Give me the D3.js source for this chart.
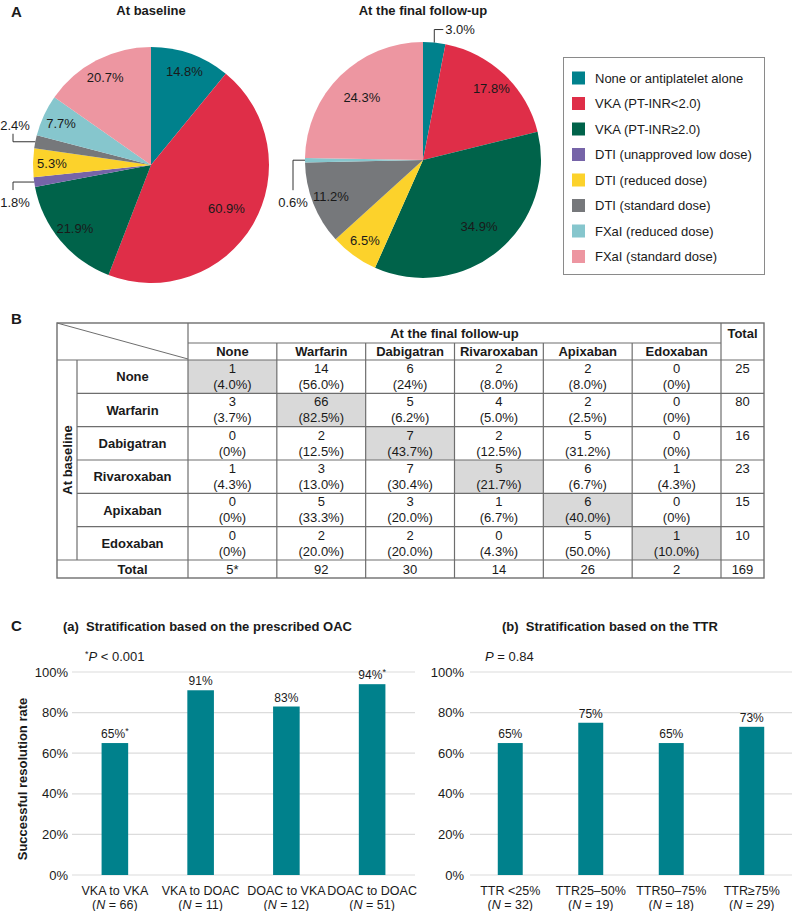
<!DOCTYPE html>
<html><head><meta charset="utf-8">
<script src="https://cdn.jsdelivr.net/npm/d3@7"></script>
<style>
body{margin:0;background:#fff;}
svg{display:block;font-family:"Liberation Sans",Arial,Helvetica,sans-serif;}
</style></head>
<body><svg id="c" width="792" height="911"></svg>
<script>
// ---------- DATA ----------
const pieCategories = ["None or antiplatelet alone","VKA (PT-INR<2.0)","VKA (PT-INR\u22652.0)","DTI (unapproved low dose)","DTI (reduced dose)","DTI (standard dose)","FXaI (reduced dose)","FXaI (standard dose)"];
const pieColors = ["#00818C","#DF2E48","#00634A","#7664A8","#FCD22B","#76787B","#86C6CD","#ED96A1"];
const baselineValues = [14.8, 60.9, 21.9, 1.8, 5.3, 2.4, 7.7, 20.7];
const finalValues = [3.0, 17.8, 34.9, 0, 6.5, 11.2, 0.6, 24.3];

const tableCols = ["None","Warfarin","Dabigatran","Rivaroxaban","Apixaban","Edoxaban"];
const tableRows = ["None","Warfarin","Dabigatran","Rivaroxaban","Apixaban","Edoxaban"];
const tableCounts = [
  [1,14,6,2,2,0],
  [3,66,5,4,2,0],
  [0,2,7,2,5,0],
  [1,3,7,5,6,1],
  [0,5,3,1,6,0],
  [0,2,2,0,5,1]];
const tablePcts = [
  ["4.0%","56.0%","24%","8.0%","8.0%","0%"],
  ["3.7%","82.5%","6.2%","5.0%","2.5%","0%"],
  ["0%","12.5%","43.7%","12.5%","31.2%","0%"],
  ["4.3%","13.0%","30.4%","21.7%","6.7%","4.3%"],
  ["0%","33.3%","20.0%","6.7%","40.0%","0%"],
  ["0%","20.0%","20.0%","4.3%","50.0%","10.0%"]];
const rowTotals = [25,80,16,23,15,10];
const colTotals = ["5*","92","30","14","26","2"];
const grandTotal = 169;

const oacGroups = ["VKA to VKA","VKA to DOAC","DOAC to VKA","DOAC to DOAC"];
const oacN = [66,11,12,51];
const oacRates = [65,91,83,94];
const oacSig = [true,false,false,true];
const ttrGroups = ["TTR <25%","TTR25\u201350%","TTR50\u201375%","TTR\u226575%"];
const ttrN = [32,19,18,29];
const ttrRates = [65,75,65,73];
const ttrSig = [false,false,false,false];
const yTicks = [0,20,40,60,80,100];

// ---------- DRAW ----------
const svg = d3.select("#c");
const TXT = "#1a1a1a";

// Panel A
svg.append("text").attr("x",11).attr("y",17).attr("font-size",15).attr("font-weight","bold").attr("fill",TXT).text("A");

function drawPie(cx, cy, r, values, title, outside){
  const g = svg.append("g").attr("transform",`translate(${cx},${cy})`);
  svg.append("text").attr("x",cx).attr("y",15).attr("text-anchor","middle")
    .attr("font-size",13).attr("font-weight","bold").attr("fill",TXT).text(title);
  const pie = d3.pie().sort(null).value(d=>d.v);
  const arcs = pie(values.map((v,i)=>({v,i})));
  const arc = d3.arc().innerRadius(0).outerRadius(r);
  g.selectAll("path").data(arcs).enter().append("path")
    .attr("d",arc).attr("fill",d=>pieColors[d.data.i]).attr("stroke","none");
  const fmt = v=>v.toFixed(1)+"%";
  const outIdx = outside.map(o=>o.i);
  arcs.forEach(d=>{
    if(d.data.v===0 || outIdx.includes(d.data.i)) return;
    const big = (d.endAngle-d.startAngle) > 1.5;
    const lr = r*(big?0.74:0.84);
    const la = d3.arc().innerRadius(lr).outerRadius(lr);
    const [x,y] = la.centroid(d);
    g.append("text").attr("x",x).attr("y",y+4.5).attr("text-anchor","middle")
      .attr("font-size",13).attr("fill",TXT).text(fmt(d.data.v));
  });
  outside.forEach(o=>{
    const d = arcs[o.i];
    const ea = d3.arc().innerRadius(r).outerRadius(r);
    const [x,y] = ea.centroid(d);
    let pts, tx, ty, anchor;
    if(o.route==="left-up"){ pts=[[x,y],[o.x,y],[o.x,y-8]]; tx=o.x+2; ty=y-12; anchor="middle"; }
    else if(o.route==="left-down"){ pts=[[x,y],[o.x,y],[o.x,y+8]]; tx=o.x+2; ty=y+25; anchor="middle"; }
    else if(o.route==="up-right"){ pts=[[x,y],[x,y-13],[x+9,y-13]]; tx=x+11; ty=y-8.5; anchor="start"; }
    else if(o.route==="left-longdown"){ pts=[[x,y],[o.x,y],[o.x,y+30]]; tx=o.x; ty=y+47; anchor="middle"; }
    g.append("path").attr("d",d3.line()(pts)).attr("fill","none").attr("stroke","#333").attr("stroke-width",1);
    g.append("text").attr("x",tx).attr("y",ty).attr("text-anchor",anchor)
      .attr("font-size",13).attr("fill",TXT).text(fmt(d.data.v));
  });
}
drawPie(151,165,118,baselineValues,"At baseline",
  [{i:5,route:"left-up",x:-138},{i:3,route:"left-down",x:-138}]);
drawPie(423,160,118,finalValues,"At the final follow-up",
  [{i:0,route:"up-right"},{i:6,route:"left-longdown",x:-130}]);

// Legend
const lg = svg.append("g");
lg.append("rect").attr("x",563.5).attr("y",57.5).attr("width",201).attr("height",217)
  .attr("fill","#fff").attr("stroke","#8a8a8a").attr("stroke-width",1);
pieCategories.forEach((c,i)=>{
  const yy = 78 + i*25.5;
  lg.append("rect").attr("x",572).attr("y",yy-6.5).attr("width",13).attr("height",13).attr("fill",pieColors[i]);
  lg.append("text").attr("x",595).attr("y",yy+4.5).attr("font-size",13).attr("fill",TXT).text(c);
});

// Panel B: table
svg.append("text").attr("x",11).attr("y",324).attr("font-size",15).attr("font-weight","bold").attr("fill",TXT).text("B");
const tb = svg.append("g");
const xL = 57, xSide = 77, xLab = 188, xTot = 721, xR = 764;
const yT = 323, yH1 = 343, yH2 = 360, yDataEnd = 560, yB = 578;
const cx = d3.scaleBand().domain(tableCols).range([xLab,xTot]);
const ry = d3.scaleBand().domain(tableRows).range([yH2,yDataEnd]);
const LC = "#6e6e6e";
// shaded diagonal
tableRows.forEach((r,i)=>{
  tb.append("rect").attr("x",cx(tableCols[i])).attr("y",ry(r)).attr("width",cx.bandwidth()).attr("height",ry.bandwidth()).attr("fill","#d9d9d9");
});
function hl(x1,x2,y){ tb.append("line").attr("x1",x1).attr("x2",x2).attr("y1",y).attr("y2",y).attr("stroke",LC).attr("stroke-width",1.2); }
function vl(x,y1,y2){ tb.append("line").attr("x1",x).attr("x2",x).attr("y1",y1).attr("y2",y2).attr("stroke",LC).attr("stroke-width",1.2); }
// outer box
tb.append("rect").attr("x",xL).attr("y",yT).attr("width",xR-xL).attr("height",yB-yT).attr("fill","none").attr("stroke",LC).attr("stroke-width",1.4);
hl(xLab,xTot,yH1);
hl(xL,xR,yH2);
tableRows.forEach((r,i)=>{ if(i>0) hl(xSide,xR,ry(r)); });
hl(xL,xR,yDataEnd);
vl(xSide,yH2,yDataEnd);
vl(xLab,yT,yB);
tableCols.forEach((c,i)=>{ if(i>0) vl(cx(c),yH1,yB); });
vl(xTot,yT,yB);
tb.append("line").attr("x1",xL).attr("y1",yT).attr("x2",xLab).attr("y2",yH2-1).attr("stroke",LC).attr("stroke-width",1);
tb.append("text").attr("x",(xLab+xTot)/2).attr("y",338).attr("text-anchor","middle").attr("font-size",13).attr("font-weight","bold").attr("fill",TXT).text("At the final follow-up");
tb.append("text").attr("x",(xTot+xR)/2).attr("y",338).attr("text-anchor","middle").attr("font-size",13).attr("font-weight","bold").attr("fill",TXT).text("Total");
tableCols.forEach(c=>{
  tb.append("text").attr("x",cx(c)+cx.bandwidth()/2).attr("y",356).attr("text-anchor","middle").attr("font-size",13).attr("font-weight","bold").attr("fill",TXT).text(c);
});
tb.append("text").attr("transform",`translate(${(xL+xSide)/2+4.5},${(yH2+yDataEnd)/2}) rotate(-90)`).attr("text-anchor","middle").attr("font-size",13).attr("font-weight","bold").attr("fill",TXT).text("At baseline");
tableRows.forEach((r,i)=>{
  const y0 = ry(r);
  tb.append("text").attr("x",(xSide+xLab)/2).attr("y",y0+ry.bandwidth()/2+4.5).attr("text-anchor","middle").attr("font-size",13).attr("font-weight","bold").attr("fill",TXT).text(r);
  tableCols.forEach((c,j)=>{
    const xm = cx(c)+cx.bandwidth()/2;
    tb.append("text").attr("x",xm).attr("y",y0+13).attr("text-anchor","middle").attr("font-size",13).attr("fill",TXT).text(tableCounts[i][j]);
    tb.append("text").attr("x",xm).attr("y",y0+29).attr("text-anchor","middle").attr("font-size",13).attr("fill",TXT).text("("+tablePcts[i][j]+")");
  });
  tb.append("text").attr("x",(xTot+xR)/2).attr("y",y0+13).attr("text-anchor","middle").attr("font-size",13).attr("fill",TXT).text(rowTotals[i]);
});
tb.append("text").attr("x",(xSide+xLab)/2).attr("y",yB-4.5).attr("text-anchor","middle").attr("font-size",13).attr("font-weight","bold").attr("fill",TXT).text("Total");
tableCols.forEach((c,j)=>{
  tb.append("text").attr("x",cx(c)+cx.bandwidth()/2).attr("y",yB-4.5).attr("text-anchor","middle").attr("font-size",13).attr("fill",TXT).text(colTotals[j]);
});
tb.append("text").attr("x",(xTot+xR)/2).attr("y",yB-4.5).attr("text-anchor","middle").attr("font-size",13).attr("fill",TXT).text(grandTotal);

// Panel C
svg.append("text").attr("x",11).attr("y",631).attr("font-size",15).attr("font-weight","bold").attr("fill",TXT).text("C");
const y = d3.scaleLinear().domain([0,100]).range([875,672]);

function drawBars(x0,x1,labelX,groups,ns,rates,sig,title,titleX,pNote){
  const g = svg.append("g");
  const x = d3.scaleBand().domain(groups).range([x0,x1]).paddingInner(0.69).paddingOuter(0.345);
  g.selectAll("line.grid").data(yTicks).enter().append("line")
    .attr("x1",x0).attr("x2",x1).attr("y1",d=>y(d)).attr("y2",d=>y(d))
    .attr("stroke","#dcdcdc").attr("stroke-width",1.2);
  g.selectAll("text.tick").data(yTicks).enter().append("text")
    .attr("x",labelX).attr("y",d=>y(d)+4.5).attr("text-anchor","end").attr("font-size",13).attr("fill",TXT)
    .text(d=>d+"%");
  g.selectAll("rect.bar").data(groups).enter().append("rect")
    .attr("x",d=>x(d)).attr("width",x.bandwidth())
    .attr("y",(d,i)=>y(rates[i])).attr("height",(d,i)=>y(0)-y(rates[i]))
    .attr("fill","#00818C");
  groups.forEach((gname,i)=>{
    const xm = x(gname)+x.bandwidth()/2;
    const t = g.append("text").attr("x",xm).attr("y",y(rates[i])-5).attr("text-anchor","middle").attr("font-size",12).attr("fill",TXT);
    t.append("tspan").text(rates[i]+"%");
    if(sig[i]) t.append("tspan").attr("font-size",9).attr("dy",-4).text("*");
    g.append("text").attr("x",xm).attr("y",895).attr("text-anchor","middle").attr("font-size",12.5).attr("fill",TXT).text(gname);
    const t2 = g.append("text").attr("x",xm).attr("y",909).attr("text-anchor","middle").attr("font-size",12.5).attr("fill",TXT);
    t2.append("tspan").text("(");
    t2.append("tspan").attr("font-style","italic").text("N");
    t2.append("tspan").text(" = "+ns[i]+")");
  });
  svg.append("text").attr("x",titleX).attr("y",631).attr("font-size",13).attr("font-weight","bold").attr("fill",TXT)
    .attr("xml:space","preserve").text(title);
  pNote(g);
}
drawBars(72,415,68,oacGroups,oacN,oacRates,oacSig,"(a)\u00a0\u00a0Stratification based on the prescribed OAC",63,g=>{
  const t = g.append("text").attr("x",85).attr("y",661).attr("font-size",13).attr("fill",TXT);
  t.append("tspan").attr("font-size",9).attr("dy",-4).text("*");
  t.append("tspan").attr("font-style","italic").attr("dy",4).text("P");
  t.append("tspan").text(" < 0.001");
});
drawBars(470,792,464,ttrGroups,ttrN,ttrRates,ttrSig,"(b)\u00a0\u00a0Stratification based on the TTR",502,g=>{
  const t = g.append("text").attr("x",485).attr("y",661).attr("font-size",13).attr("fill",TXT);
  t.append("tspan").attr("font-style","italic").text("P");
  t.append("tspan").text(" = 0.84");
});
svg.append("text").attr("transform","translate(27,779) rotate(-90)").attr("text-anchor","middle")
  .attr("font-size",13).attr("font-weight","bold").attr("fill",TXT).text("Successful resolution rate");
</script>
</body></html>
